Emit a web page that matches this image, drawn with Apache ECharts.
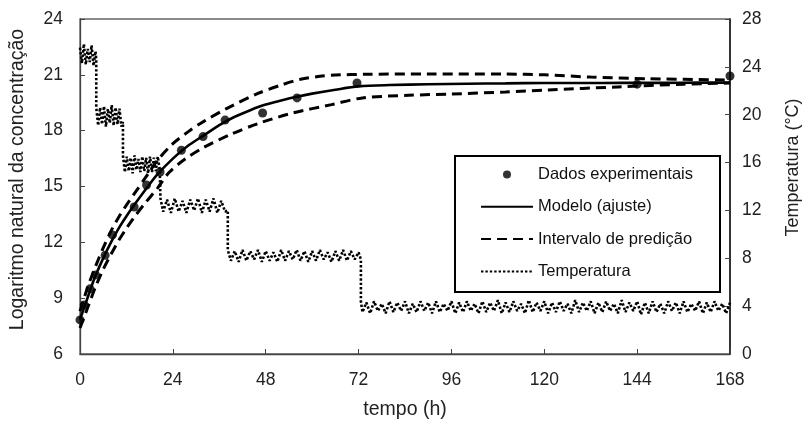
<!DOCTYPE html>
<html>
<head>
<meta charset="utf-8">
<script src="https://cdn.jsdelivr.net/npm/echarts@6/dist/echarts.min.js"></script>
<style>html,body{margin:0;padding:0;background:#fff;}#c{width:804px;height:423px;}</style>
</head>
<body>
<div id="c"></div>
<script>
// ---- data ----
const xTicks = [0, 24, 48, 72, 96, 120, 144, 168];
const leftTicks = [6, 9, 12, 15, 18, 21, 24];
const rightTicks = [0, 4, 8, 12, 16, 20, 24, 28];

const expTime  = [0, 1.1, 2.6, 4.0, 6.5, 8.4, 14.0, 17.2, 20.7, 26.2, 31.8, 37.5, 47.2, 56.1, 71.6, 144, 168];
const expValue = [7.83, 8.63, 9.5, 10.25, 11.3, 12.4, 13.9, 15.08, 15.78, 16.95, 17.68, 18.57, 18.95, 19.76, 20.56, 20.5, 20.94];

const modelTime  = [0, 1, 2, 3, 4, 6, 8, 10, 12, 14, 17, 20, 24, 28, 32, 36, 40, 44, 48, 52, 56, 60, 66, 72, 80, 90, 100, 110, 120, 130, 140, 150, 160, 168];
const modelValue = [7.85, 8.45, 9.05, 9.65, 10.2, 11.15, 12.0, 12.75, 13.4, 14.0, 14.85, 15.65, 16.5, 17.2, 17.75, 18.3, 18.75, 19.1, 19.4, 19.62, 19.82, 19.99, 20.2, 20.38, 20.45, 20.49, 20.52, 20.54, 20.56, 20.56, 20.57, 20.57, 20.58, 20.58];

const upperTime  = [0, 2, 4, 6, 8, 10, 12, 14, 17, 20, 24, 28, 32, 38, 46, 52, 57, 62, 66, 74, 90, 110, 120, 132, 147, 168];
const upperValue = [8.3, 9.6, 10.7, 11.7, 12.6, 13.35, 14.0, 14.6, 15.5, 16.4, 17.3, 17.95, 18.5, 19.2, 20.0, 20.45, 20.76, 20.92, 20.99, 21.03, 21.05, 21.04, 21.0, 20.88, 20.79, 20.72];

const lowerTime  = [0, 2, 4, 6, 8, 10, 12, 14, 17, 20, 23, 27, 32, 39, 46, 55, 65, 73, 85, 96, 110, 121, 139, 156, 168];
const lowerValue = [7.4, 8.5, 9.6, 10.55, 11.35, 12.1, 12.75, 13.35, 14.15, 14.9, 15.75, 16.45, 17.1, 17.8, 18.38, 18.95, 19.4, 19.76, 19.9, 19.97, 20.08, 20.19, 20.35, 20.5, 20.56];

const tempTime = [
  0, 0.5, 1, 1.5, 2, 2.5, 3, 3.5, 4, 4.2,
  4.2, 4.7, 5.2, 5.7, 6.2, 6.7, 7.2, 7.7, 8.2, 8.7, 9.2, 9.7, 10.2, 10.7, 11.1,
  11.1, 11.6, 12.1, 12.6, 13.1, 13.6, 14.1, 14.6, 15.1, 15.6, 16.1, 16.6, 17.1, 17.6, 18.1, 18.6, 19.1, 19.6, 20.1, 20.6, 20.8,
  20.8, 21.5, 22.5, 23.5, 24.5, 25.5, 26.5, 27.5, 28.5, 29.5, 30.5, 31.5, 32.5, 33.5, 34.5, 35.5, 36.5, 37.5, 38.2,
  38.2, 39, 40, 41, 42, 43, 44, 45, 46, 47, 48, 49, 50, 51, 52, 53, 54, 55, 56, 57, 58, 59, 60, 61, 62, 63, 64, 65, 66, 67, 68, 69, 70, 71, 72, 72.6,
  72.6, 73, 74, 75, 76, 77, 78, 79, 80, 81, 82, 83, 84, 85, 86, 87, 88, 89, 90, 91, 92, 93, 94, 95, 96,
  97, 98, 99, 100, 101, 102, 103, 104, 105, 106, 107, 108, 109, 110, 111, 112, 113, 114, 115, 116, 117, 118, 119, 120,
  121, 122, 123, 124, 125, 126, 127, 128, 129, 130, 131, 132, 133, 134, 135, 136, 137, 138, 139, 140, 141, 142, 143, 144,
  145, 146, 147, 148, 149, 150, 151, 152, 153, 154, 155, 156, 157, 158, 159, 160, 161, 162, 163, 164, 165, 166, 167, 168
];
const tempValue = [
  25.6, 24.3, 25.9, 24.2, 25.5, 24.4, 25.8, 24.1, 25.3, 24.6,
  20.6, 19.1, 20.6, 19.2, 20.7, 19.0, 20.5, 19.3, 20.8, 19.1, 20.6, 19.2, 20.5, 19.0, 19.4,
  16.6, 15.2, 16.5, 15.3, 16.4, 15.1, 16.6, 15.4, 16.3, 15.2, 16.5, 15.3, 16.4, 15.1, 16.5, 15.2, 16.4, 15.3, 16.5, 15.4, 15.3,
  13.0, 11.9, 12.9, 11.8, 13.0, 11.9, 12.8, 11.8, 12.9, 12.0, 13.0, 11.8, 12.9, 11.9, 13.0, 11.8, 12.8, 11.9, 12.0,
  8.7, 7.8, 8.6, 7.7, 8.7, 7.8, 8.6, 7.9, 8.7, 7.7, 8.6, 7.8, 8.5, 7.7, 8.7, 7.8, 8.6, 7.9, 8.7, 7.8, 8.6, 7.7, 8.6, 7.8, 8.7, 7.9, 8.5, 7.7, 8.6, 7.8, 8.7, 7.8, 8.6, 7.9, 8.5, 7.9,
  4.4, 3.5, 4.3, 3.4, 4.4, 3.6, 4.2, 3.4, 4.4, 3.5, 4.3, 3.6, 4.4, 3.4, 4.2, 3.5, 4.4, 3.6, 4.3, 3.4, 4.4, 3.5, 4.2, 3.6, 4.4,
  3.4, 4.3, 3.5, 4.4, 3.6, 4.2, 3.4, 4.4, 3.5, 4.3, 3.6, 4.5, 3.4, 4.3, 3.5, 4.4, 3.6, 4.2, 3.4, 4.5, 3.5, 4.3, 3.6, 4.4,
  3.4, 4.3, 3.5, 4.4, 3.6, 4.2, 3.4, 4.5, 3.5, 4.3, 3.6, 4.4, 3.4, 4.3, 3.5, 4.4, 3.6, 4.2, 3.4, 4.5, 3.5, 4.3, 3.6, 4.4,
  3.3, 4.3, 3.4, 4.4, 3.5, 4.2, 3.4, 4.4, 3.6, 4.3, 3.4, 4.4, 3.5, 4.2, 3.6, 4.4, 3.4, 4.3, 3.5, 4.4, 3.6, 4.2, 3.4, 4.3
];

const names = ['Dados experimentais', 'Modelo (ajuste)', 'Intervalo de predição', 'Temperatura'];

// ---- build ----
const zip = (a, b) => a.map((t, i) => [t, b[i]]);
const FONT = 'Liberation Sans, Arial, sans-serif';
const chart = echarts.init(document.getElementById('c'), null, { renderer: 'canvas' });

const axisCommon = {
  axisLine: { show: true, lineStyle: { color: '#444', width: 1.3 } },
  axisTick: { show: true, inside: true, length: 5, lineStyle: { color: '#444' } },
  splitLine: { show: false },
  axisLabel: { color: '#222', fontSize: 17.5, fontFamily: FONT },
  nameTextStyle: { color: '#222', fontSize: 19.5, fontFamily: FONT }
};
const hidden = { color: 'rgba(0,0,0,0)', borderColor: 'rgba(0,0,0,0)', borderWidth: 0 };

chart.setOption({
  animation: false,
  backgroundColor: '#fff',
  grid: { left: 80, right: 74, top: 19, bottom: 69, show: true, borderColor: '#666', borderWidth: 1.3,
          containLabel: false, outerBoundsMode: 'none' },
  xAxis: Object.assign({}, axisCommon, {
    type: 'value', min: xTicks[0], max: xTicks[xTicks.length - 1], interval: 24,
    name: 'tempo (h)', nameLocation: 'middle', nameGap: 46,
    axisLabel: Object.assign({}, axisCommon.axisLabel, { margin: 17 })
  }),
  yAxis: [
    Object.assign({}, axisCommon, {
      type: 'value', min: leftTicks[0], max: leftTicks[leftTicks.length - 1], interval: 3,
      name: 'Logaritmo natural da concentração', nameLocation: 'middle', nameGap: 52,
      nameTextStyle: Object.assign({}, axisCommon.nameTextStyle, { padding: [0, 0, 0, 14] }),
      axisLabel: Object.assign({}, axisCommon.axisLabel, { margin: 17 })
    }),
    Object.assign({}, axisCommon, {
      type: 'value', position: 'right', min: rightTicks[0], max: rightTicks[rightTicks.length - 1], interval: 4,
      axisLine: { show: true, lineStyle: { color: '#111', width: 1.5 } },
      name: 'Temperatura (°C)', nameLocation: 'middle', nameGap: 54, nameRotate: 90,
      nameTextStyle: Object.assign({}, axisCommon.nameTextStyle, { fontSize: 18, padding: [0, 0, 0, 38] }),
      axisLabel: Object.assign({}, axisCommon.axisLabel, { margin: 12 })
    })
  ],
  legend: {
    orient: 'vertical', left: 475, top: 161, z: 10,
    itemWidth: 52, itemHeight: 8, itemGap: 15.3,
    textStyle: { color: '#111', fontSize: 16.5, fontFamily: FONT },
    data: [
      { name: names[0] },
      { name: names[1], itemStyle: hidden },
      { name: names[2], itemStyle: hidden },
      { name: names[3], itemStyle: hidden }
    ]
  },
  graphic: [{
    type: 'rect', left: 454, top: 155, z: 5,
    shape: { width: 265, height: 136 },
    style: { fill: '#fff', stroke: '#000', lineWidth: 2 }
  }],
  series: [
    {
      name: names[3], type: 'line', yAxisIndex: 1, symbol: 'none', z: 2,
      lineStyle: { color: '#000', width: 2.6, type: [2.4, 2] },
      itemStyle: { color: '#000' },
      data: zip(tempTime, tempValue)
    },
    {
      name: names[2], type: 'line', symbol: 'none', smooth: 0.3, z: 3,
      lineStyle: { color: '#000', width: 3, type: [10, 6] }, itemStyle: { color: '#000' },
      data: zip(upperTime, upperValue)
    },
    {
      name: names[2], type: 'line', symbol: 'none', smooth: 0.3, z: 3,
      lineStyle: { color: '#000', width: 3, type: [10, 6] }, itemStyle: { color: '#000' },
      data: zip(lowerTime, lowerValue)
    },
    {
      name: names[1], type: 'line', symbol: 'none', smooth: 0.3, z: 4,
      lineStyle: { color: '#000', width: 2.6 }, itemStyle: { color: '#000' },
      data: zip(modelTime, modelValue)
    },
    {
      name: names[0], type: 'scatter', symbol: 'circle', symbolSize: 9, z: 6,
      itemStyle: { color: '#000' },
      data: zip(expTime, expValue)
    }
  ]
});
</script>
</body>
</html>
